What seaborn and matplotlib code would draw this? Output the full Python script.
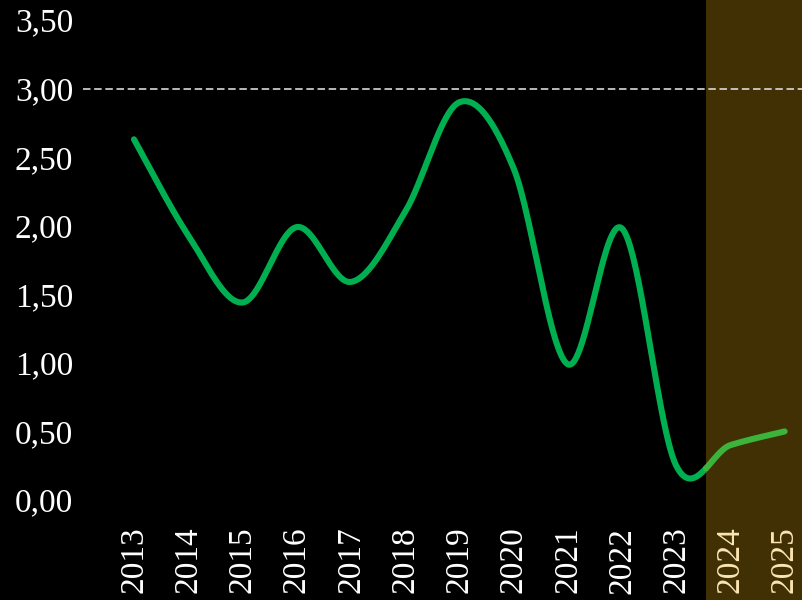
import numpy as np
import pandas as pd
import matplotlib
matplotlib.use("Agg")
import matplotlib.pyplot as plt
import matplotlib.transforms as mtransforms
from matplotlib.patches import Rectangle
from matplotlib.ticker import FuncFormatter, MultipleLocator
import seaborn as sns

# --- data -------------------------------------------------------------
years = [2013, 2014, 2015, 2016, 2017, 2018, 2019, 2020, 2021, 2022, 2023, 2024, 2025]
values = [2.63, 1.93, 1.44, 1.99, 1.59, 2.10, 2.90, 2.42, 0.99, 1.98, 0.25, 0.40, 0.50]
forecast_years = [2024, 2025]
reference_level = 3.00

# --- style ------------------------------------------------------------
sns.set_theme(style="dark", rc={
    "axes.facecolor": "black",
    "figure.facecolor": "black",
    "axes.grid": False,
})
plt.rcParams["font.family"] = ["Liberation Serif", "DejaVu Serif"]

LINE_GREEN = "#00b050"
FORECAST_GREEN = "#3cb43c"
SHADE = "#403004"
CREAM = "#fbe5b2"


def catmull_rom(xs, ys, n=60):
    """Smooth curve passing through every point (Catmull-Rom / Excel-style)."""
    xs = np.asarray(xs, float)
    ys = np.asarray(ys, float)
    px = np.concatenate([[xs[0]], xs, [xs[-1]]])
    py = np.concatenate([[ys[0]], ys, [ys[-1]]])
    out_x, out_y = [], []
    for i in range(1, len(px) - 2):
        t = np.linspace(0, 1, n, endpoint=False)
        mx0 = (px[i + 1] - px[i - 1]) / 2
        mx1 = (px[i + 2] - px[i]) / 2
        my0 = (py[i + 1] - py[i - 1]) / 2
        my1 = (py[i + 2] - py[i]) / 2
        h00 = 2 * t**3 - 3 * t**2 + 1
        h10 = t**3 - 2 * t**2 + t
        h01 = -2 * t**3 + 3 * t**2
        h11 = t**3 - t**2
        out_x.append(h00 * px[i] + h10 * mx0 + h01 * px[i + 1] + h11 * mx1)
        out_y.append(h00 * py[i] + h10 * my0 + h01 * py[i + 1] + h11 * my1)
    out_x.append([xs[-1]])
    out_y.append([ys[-1]])
    return np.concatenate(out_x), np.concatenate(out_y)


sx, sy = catmull_rom(years, values)
split = 2023.55
curve = pd.DataFrame({"year": sx, "value": sy})
hist = curve[curve["year"] <= split]
fcst = curve[curve["year"] >= split]
# join the two pieces exactly at the split
joint_y = np.interp(split, sx, sy)
hist = pd.concat([hist, pd.DataFrame({"year": [split], "value": [joint_y]})])
fcst = pd.concat([pd.DataFrame({"year": [split], "value": [joint_y]}), fcst])

fig = plt.figure(figsize=(8.02, 6.00), dpi=100)
ax = fig.add_axes([83 / 802, 90 / 600, 1 - 83 / 802, 510 / 600])

xmin, xmax = 2012.06, 2025.32
ax.set_xlim(xmin, xmax)
ax.set_ylim(-0.073, 3.646)

# forecast band reaching down through the year labels
trans = mtransforms.blended_transform_factory(ax.transData, fig.transFigure)
ax.add_patch(Rectangle((split, 0), xmax - split + 1, 1, transform=trans,
                       facecolor=SHADE, edgecolor="none", clip_on=False, zorder=0))

ax.axhline(reference_level, color="#d9d9d9", lw=1.2, dashes=(4.5, 2.2), zorder=1)

sns.lineplot(data=hist, x="year", y="value", sort=False, estimator=None,
             color=LINE_GREEN, lw=4.4, ax=ax, zorder=3)
sns.lineplot(data=fcst, x="year", y="value", sort=False, estimator=None,
             color=FORECAST_GREEN, lw=4.4, ax=ax, zorder=3)
for ln in ax.get_lines():
    ln.set_solid_capstyle("round")

ax.set_xticks(years)
ax.set_xticklabels([str(y) for y in years], rotation=90)
for lab, y in zip(ax.get_xticklabels(), years):
    lab.set_color(CREAM if y in forecast_years else "white")

ax.yaxis.set_major_locator(MultipleLocator(0.5))
ax.yaxis.set_major_formatter(FuncFormatter(lambda v, _: f"{v:.2f}".replace(".", ",")))
ax.tick_params(axis="y", colors="white", labelsize=24, length=0, pad=7)
ax.tick_params(axis="x", labelsize=24, length=0, pad=12)

ax.set_xlabel("")
ax.set_ylabel("")
for s in ax.spines.values():
    s.set_visible(False)

fig.savefig("out.png", dpi=100, facecolor="black")
